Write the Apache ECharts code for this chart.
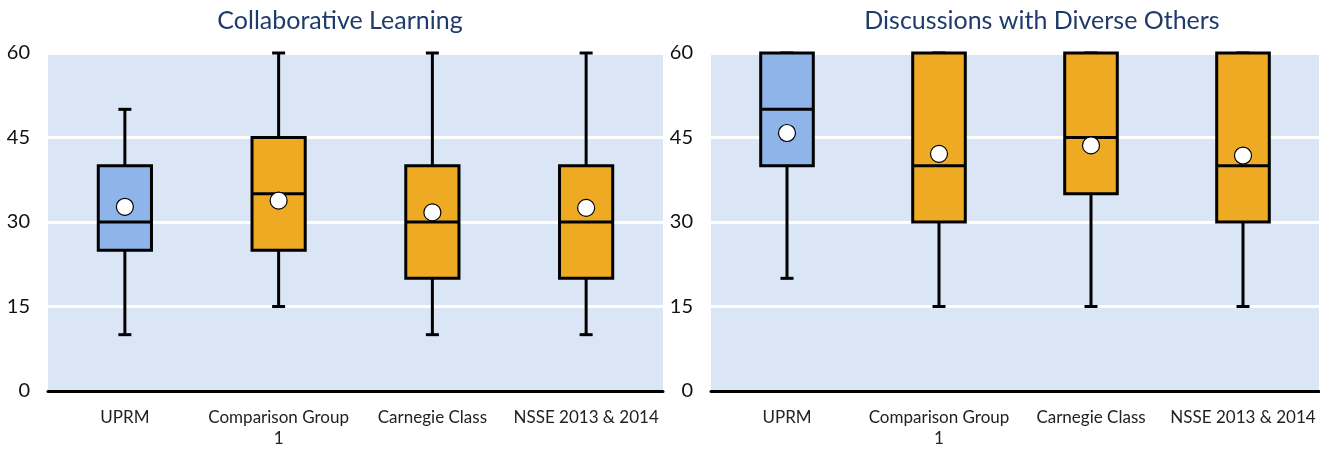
<!DOCTYPE html>
<html>
<head>
<meta charset="utf-8">
<script src="https://cdn.jsdelivr.net/npm/echarts@6/dist/echarts.min.js"></script>
<style>
  html, body { margin: 0; padding: 0; background: #fff; }
  #chart { width: 1320px; height: 449px; }
</style>
</head>
<body>
<div id="chart"></div>
<script>
// Groups compared in both panels
const categories = ['UPRM', 'Comparison Group 1', 'Carnegie Class', 'NSSE 2013 & 2014'];

// Panel titles
const panelTitles = ['Collaborative Learning', 'Discussions with Diverse Others'];

// Y axis ticks: 0 to 60 in steps of 15
const yMin = 0;
const yMax = 60;
const yStep = 15;

// Box statistics per group: [min, Q1, median, Q3, max]
const collabBox = [
  [10, 25, 30, 40, 50],
  [15, 25, 35, 45, 60],
  [10, 20, 30, 40, 60],
  [10, 20, 30, 40, 60]
];
const collabMean = [32.7, 33.8, 31.7, 32.5];

const diverseBox = [
  [20, 40, 50, 60, 60],
  [15, 30, 40, 60, 60],
  [15, 35, 45, 60, 60],
  [15, 30, 40, 60, 60]
];
const diverseMean = [45.8, 42.1, 43.6, 41.8];

// Institution box in blue, reference groups in amber
const boxColors = ['#8EB4E9', '#EFAA24', '#EFAA24', '#EFAA24'];

const FONT = 'Lato, "Open Sans", sans-serif';

function renderBox(params, api) {
  const i = api.value(0);
  const x = api.coord([i, 0])[0];
  const yLo = api.coord([i, api.value(1)])[1];
  const yQ1 = api.coord([i, api.value(2)])[1];
  const yMed = api.coord([i, api.value(3)])[1];
  const yQ3 = api.coord([i, api.value(4)])[1];
  const yHi = api.coord([i, api.value(5)])[1];
  const halfW = api.size([1, 0])[0] * 0.173;
  const capHalf = 6.5;
  const line = { stroke: '#000', lineWidth: 3 };
  return {
    type: 'group',
    children: [
      { type: 'line', shape: { x1: x, y1: yLo, x2: x, y2: yQ1 }, style: line },
      { type: 'line', shape: { x1: x, y1: yQ3, x2: x, y2: yHi }, style: line },
      { type: 'line', shape: { x1: x - capHalf, y1: yLo, x2: x + capHalf, y2: yLo }, style: line },
      { type: 'line', shape: { x1: x - capHalf, y1: yHi, x2: x + capHalf, y2: yHi }, style: line },
      {
        type: 'rect',
        shape: { x: x - halfW, y: yQ3, width: halfW * 2, height: yQ1 - yQ3 },
        style: { fill: boxColors[i], stroke: '#000', lineWidth: 3 }
      },
      { type: 'line', shape: { x1: x - halfW, y1: yMed, x2: x + halfW, y2: yMed }, style: line }
    ]
  };
}

const grids = [
  { left: 48, right: 657, top: 53, bottom: 52 },
  { left: 711, right: 1, top: 53, bottom: 52 }
].map(g => Object.assign(g, { show: true, backgroundColor: '#DAE5F6', borderWidth: 0 }));

const xAxes = [0, 1].map(k => ({
  type: 'category',
  gridIndex: k,
  data: categories,
  axisTick: { show: false },
  axisLine: { lineStyle: { color: '#000', width: 3 } },
  axisLabel: {
    interval: 0,
    margin: 16,
    fontFamily: FONT,
    fontSize: 17,
    lineHeight: 21,
    color: '#222',
    formatter: v => v.replace('Group ', 'Group\n')
  }
}));

const yAxes = [0, 1].map(k => ({
  type: 'value',
  gridIndex: k,
  min: yMin,
  max: yMax,
  interval: yStep,
  axisLine: { show: false },
  axisTick: { show: false },
  splitLine: { lineStyle: { color: '#fff', width: 3 } },
  axisLabel: { margin: 18, fontFamily: FONT, fontSize: 20, color: '#111' }
}));

function panelSeries(k, box, mean) {
  return [
    {
      type: 'custom',
      xAxisIndex: k,
      yAxisIndex: k,
      renderItem: renderBox,
      encode: { x: 0, y: [1, 2, 3, 4, 5] },
      data: categories.map((c, i) => [i].concat(box[i])),
      z: 2
    },
    {
      type: 'scatter',
      xAxisIndex: k,
      yAxisIndex: k,
      symbol: 'circle',
      symbolSize: 17,
      itemStyle: { color: '#fff', borderColor: '#000', borderWidth: 1.2, opacity: 1 },
      data: categories.map((c, i) => [i, mean[i]]),
      z: 3
    }
  ];
}

const chart = echarts.init(document.getElementById('chart'), null, { renderer: 'canvas' });
chart.setOption({
  animation: false,
  grid: grids,
  xAxis: xAxes,
  yAxis: yAxes,
  graphic: [
    { type: 'text', x: 340, y: 21, style: { text: panelTitles[0], fill: '#1F3B6B', font: '25px ' + FONT, textAlign: 'center', textVerticalAlign: 'middle' } },
    { type: 'text', x: 1042, y: 21, style: { text: panelTitles[1], fill: '#1F3B6B', font: '25px ' + FONT, textAlign: 'center', textVerticalAlign: 'middle' } }
  ],
  series: panelSeries(0, collabBox, collabMean).concat(panelSeries(1, diverseBox, diverseMean))
});
</script>
</body>
</html>
